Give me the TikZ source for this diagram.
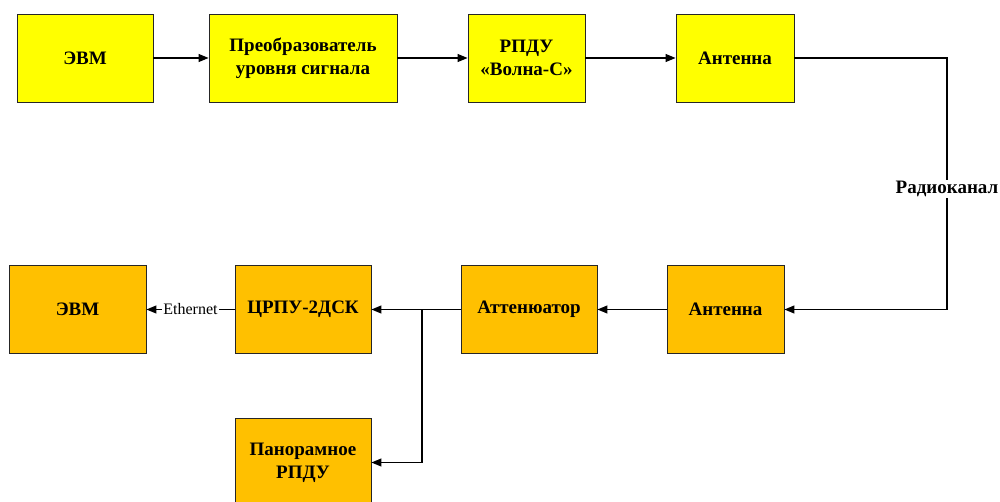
\documentclass[tikz,border=0pt]{standalone}
\usepackage{fontspec}
\setmainfont{Liberation Serif}[BoldFont={Liberation Serif Bold}]
\usetikzlibrary{arrows.meta}
\definecolor{txfill}{RGB}{255,255,0}
\definecolor{rxfill}{RGB}{255,192,0}

\begin{document}
\begin{tikzpicture}[x=1pt,y=-1pt]
    \pgfmathsetmacro{\toprow}{58}
    \pgfmathsetmacro{\botrow}{309.5}
    \pgfmathsetmacro{\boxh}{88}
    \tikzset{block/.style={draw=black!85,line width=0.9pt,minimum height=\boxh pt,inner sep=0pt,align=center,font=\fontsize{19}{23}\selectfont\bfseries}}
    \tikzset{tx/.style={block,fill=txfill}, rx/.style={block,fill=rxfill}}
    \tikzset{link/.style={draw,line width=1.1pt,-{Triangle[length=10pt,width=8pt]}}}
    \useasboundingbox (0,0) rectangle (1000,502);
    \node[tx,minimum width=136pt] (evm1) at (85,\toprow) {ЭВМ};
\node[tx,minimum width=188pt] (conv) at (303,\toprow) {Преобразователь\\уровня сигнала};
\node[tx,minimum width=117pt] (rpdu) at (526.5,\toprow) {РПДУ\\«Волна-С»};
\node[tx,minimum width=118pt] (ant1) at (735,\toprow) {Антенна};
\node[rx,minimum width=137pt] (evm2) at (77.5,\botrow) {ЭВМ};
\node[rx,minimum width=136pt] (crpu) at (303,\botrow) {ЦРПУ-2ДСК};
\node[rx,minimum width=136pt] (att) at (529,\botrow) {Аттенюатор};
\node[rx,minimum width=117pt] (ant2) at (725.5,\botrow) {Антенна};
\node[rx,minimum width=136pt,minimum height=89pt] (pan) at (303,462.5) {Панорамное\\РПДУ};
    \coordinate (bend) at (947,\botrow);
    \coordinate (split) at (422,\botrow);
\draw[link] (evm1) -- (conv);
\draw[link] (conv) -- (rpdu);
\draw[link] (rpdu) -- (ant1);
\draw[link] (ant1.east) -| node[pos=0.76,fill=white,inner sep=1pt,font=\fontsize{19}{23}\selectfont\bfseries]{Радиоканал} (bend) -- (ant2.east);
\draw[link] (ant2) -- (att);
\draw[link] (att) -- (crpu);
\draw[link] (split) |- (pan.east);
\draw[link] (crpu) -- node[fill=white,inner sep=1pt,font=\fontsize{16}{16}\selectfont]{Ethernet} (evm2);

\end{tikzpicture}
\end{document}
